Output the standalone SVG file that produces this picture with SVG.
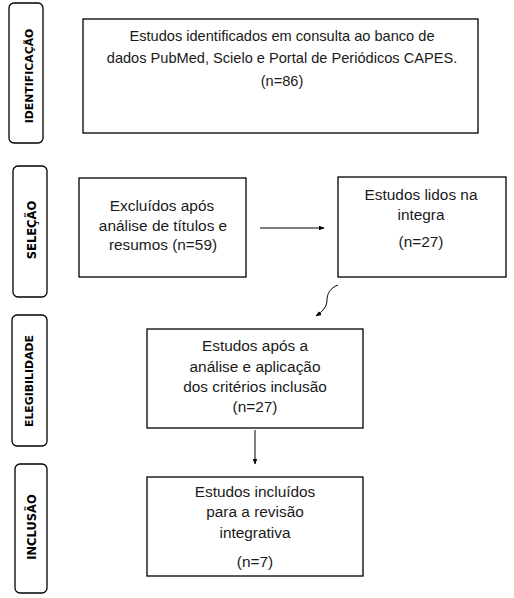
<svg xmlns="http://www.w3.org/2000/svg" width="514" height="598" viewBox="0 0 514 598">
<style>
.box{fill:#fff;stroke:#000;stroke-width:1.3}
.side{fill:#fff;stroke:#000;stroke-width:1.3}
.t{font-family:"Liberation Sans",Arial,sans-serif;font-size:15.4px;fill:#1a1a1a;text-anchor:middle}
.t1{font-size:14.6px}
.s{font-family:"DejaVu Sans",Verdana,sans-serif;font-size:11.5px;font-weight:bold;fill:#000;text-anchor:middle}
.s2{font-size:10.9px}
.c{fill:none;stroke:#000;stroke-width:1}
</style>
<defs>
<marker id="ah" viewBox="0 0 10 10" refX="9" refY="5" markerWidth="6" markerHeight="6" orient="auto" markerUnits="userSpaceOnUse">
<path d="M0,1 L10,5 L0,9 Z" fill="#000"/>
</marker>
</defs>
<rect width="514" height="598" fill="#fff"/>
<g id="side-identificacao">
<rect class="side" x="9" y="3" width="34" height="140" rx="5"/>
<text class="s s2" transform="translate(33,76) rotate(-90)">IDENTIFICAÇÃO</text>
</g>
<g id="side-selecao">
<rect class="side" x="13" y="166" width="34" height="131" rx="5"/>
<text class="s" transform="translate(35.5,230) rotate(-90)">SELEÇÃO</text>
</g>
<g id="side-elegibilidade">
<rect class="side" x="12" y="315" width="35" height="131" rx="5"/>
<text class="s s2" transform="translate(33,381) rotate(-90)">ELEGIBILIDADE</text>
</g>
<g id="side-inclusao">
<rect class="side" x="15" y="464" width="32" height="129" rx="5"/>
<text class="s" transform="translate(36,527) rotate(-90)">INCLUSÃO</text>
</g>
<g id="n-identificados">
<rect class="box" x="83" y="19" width="395" height="114"/>
<text class="t t1" x="282" y="40.5">Estudos identificados em consulta ao banco de</text>
<text class="t t1" x="282" y="62.5">dados PubMed, Scielo e Portal de Periódicos CAPES.</text>
<text class="t t1" x="282" y="86">(n=86)</text>
</g>
<g id="n-excluidos">
<rect class="box" x="79" y="178" width="167" height="99"/>
<text class="t" x="162" y="211">Excluídos após</text>
<text class="t" x="163" y="231">análise de títulos e</text>
<text class="t" x="163" y="250">resumos (n=59)</text>
</g>
<g id="n-lidos">
<rect class="box" x="338" y="177" width="168" height="100"/>
<text class="t" x="421" y="200">Estudos lidos na</text>
<text class="t" x="421" y="220">integra</text>
<text class="t" x="421" y="247">(n=27)</text>
</g>
<g id="n-elegiveis">
<rect class="box" x="147" y="329" width="216" height="99"/>
<text class="t" x="255" y="351">Estudos após a</text>
<text class="t" x="255" y="371.5">análise e aplicação</text>
<text class="t" x="255" y="392">dos critérios inclusão</text>
<text class="t" x="255" y="412">(n=27)</text>
</g>
<g id="n-incluidos">
<rect class="box" x="147" y="477" width="216" height="99"/>
<text class="t" x="255" y="497">Estudos incluídos</text>
<text class="t" x="255" y="517">para a revisão</text>
<text class="t" x="255" y="538">integrativa</text>
<text class="t" x="255" y="567">(n=7)</text>
</g>
<g id="connectors">
<path class="c" d="M260,228 L324,228" marker-end="url(#ah)"/>
<path class="c" d="M338,285 C330,288 327,294 327,300 C327,307 322,312 316,316" marker-end="url(#ah)"/>
<path class="c" d="M255,430 L255,464" marker-end="url(#ah)"/>
</g>
</svg>
